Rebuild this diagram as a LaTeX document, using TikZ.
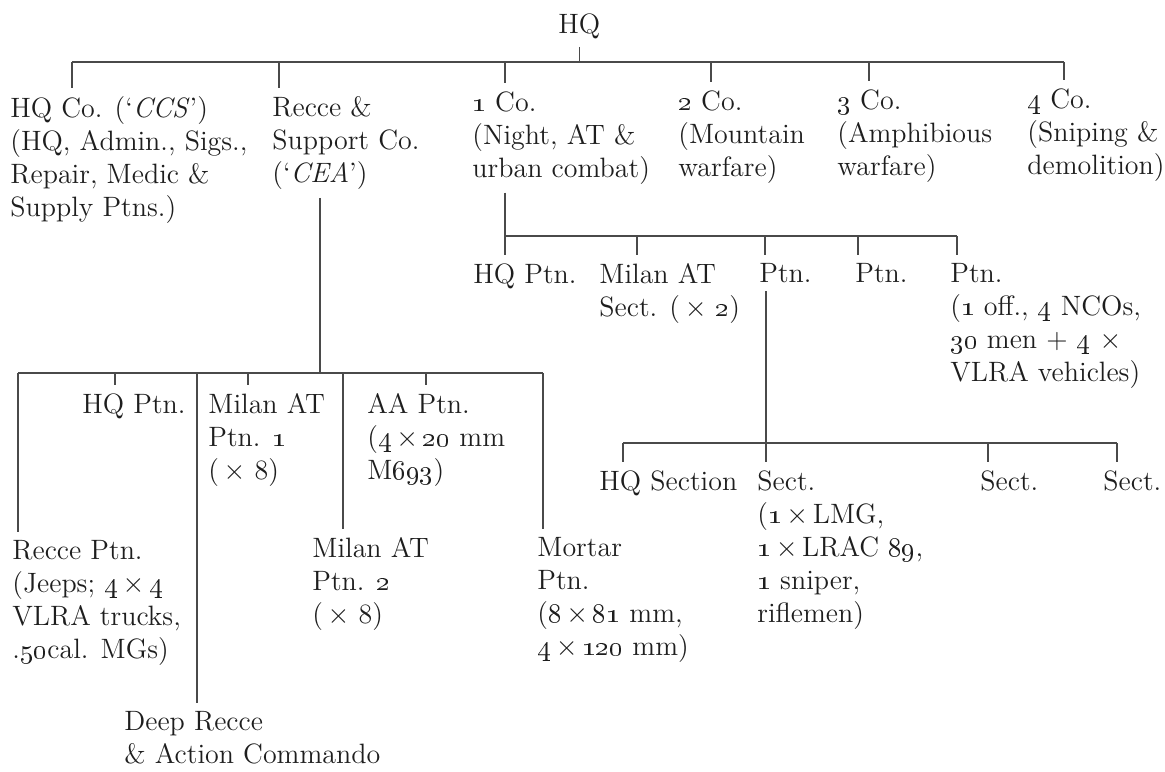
\RequirePackage{fix-cm}
\documentclass[tikz,border=0pt]{standalone}
\usepackage{tikz}

\definecolor{ink}{HTML}{1E1E1E}
\definecolor{rule}{HTML}{4A4A4A}
\newcommand{\osn}[1]{\oldstylenums{#1}}

\tikzset{
  unit/.style={anchor=north west, align=left, inner xsep=0pt, inner ysep=4pt,
    text=ink, font=\fontsize{14}{16.5}\selectfont},
  link/.style={draw=rule, line width=0.55pt},
}

\begin{document}
\begin{tikzpicture}[x=0.5pt, y=-0.5pt]
      \fill[white] (0,0) rectangle (1165,771);
      \useasboundingbox (0,0) rectangle (1165,771);

      % battalion and companies
      \node[unit] (hq) at (558,5) {HQ};
      \node[unit] (hqco) at (10,88) {HQ Co. (`\textit{CCS}')\\(HQ, Admin., Sigs.,\\Repair, Medic \&\\Supply Ptns.)};
      \node[unit] (recce) at (272,88) {Recce \&\\Support Co.\\(`\textit{CEA}')};
      \node[unit] (coa) at (472,83) {\osn{1} Co.\\(Night, AT \&\\urban combat)};
      \node[unit] (cob) at (678,82) {\osn{2} Co.\\(Mountain\\warfare)};
      \node[unit] (coc) at (837,81) {\osn{3} Co.\\(Amphibious\\warfare)};
      \node[unit] (cod) at (1027,80) {\osn{4} Co.\\(Sniping \&\\demolition)};

      \coordinate (topL) at (72,62);
      \coordinate (topR) at (1064,62);
      \draw[link] (topL) -- (topR);
      \draw[link] (hq.south) -- (hq.south |- topL);
      \foreach \x/\n in {72/hqco, 279/recce, 505/coa, 711/cob, 869/coc, 1064/cod} {
        \coordinate (d-\n) at (\x,62);
        \draw[link] (d-\n) -- (d-\n |- \n.north);
      }

      % 1 Co.
      \node[unit] (hqptn) at (473,255) {HQ Ptn.};
      \node[unit] (milsect) at (599,255) {Milan AT\\Sect. (\,$\times$\ \osn{2})};
      \node[unit] (ptna) at (759,255) {Ptn.};
      \node[unit] (ptnb) at (855,255) {Ptn.};
      \node[unit] (ptnc) at (950,255) {Ptn.\\(\osn{1} off., \osn{4} NCOs,\\\osn{30} men + \osn{4} $\times$\\VLRA vehicles)};

      \coordinate (coaL) at (505,236);
      \coordinate (coaR) at (957,236);
      \draw[link] (coaL |- coa.south) -- (coaL) -- (coaR);
      \foreach \x/\n in {505/hqptn, 637/milsect, 765/ptna, 858/ptnb, 957/ptnc} {
        \coordinate (d-\n) at (\x,236);
        \draw[link] (d-\n) -- (d-\n |- \n.north);
      }

      % platoon
      \node[unit] (hqsec) at (599,462) {HQ Section};
      \node[unit] (secta) at (757,462) {Sect.\\(\osn{1}\,$\times$\,LMG,\\\osn{1}\,$\times$\,LRAC \osn{89},\\\osn{1} sniper,\\riflemen)};
      \node[unit] (sectb) at (980,462) {Sect.};
      \node[unit] (sectc) at (1103,462) {Sect.};

      \coordinate (ptnL) at (623,443);
      \coordinate (ptnR) at (1117,443);
      \coordinate (ptnV) at (766,443);
      \draw[link] (ptnV |- ptna.south) -- (ptnV);
      \draw[link] (ptnL) -- (ptnR);
      \foreach \x/\n in {623/hqsec, 766/secta, 988/sectb, 1117/sectc} {
        \coordinate (d-\n) at (\x,443);
        \draw[link] (d-\n) -- (d-\n |- \n.north);
      }

      % recce & support co.
      \node[unit] (rhq) at (82,385) {HQ Ptn.};
      \node[unit] (milana) at (208,385) {Milan AT\\Ptn. \osn{1}\\(\,$\times$\ 8)};
      \node[unit] (aa) at (367,385) {AA Ptn.\\(\osn{4}\,$\times$\,\osn{20} mm\\M\osn{693})};
      \node[unit] (rptn) at (12,532) {Recce Ptn.\\(Jeeps; \osn{4}\,$\times$\,\osn{4}\\VLRA trucks,\\.\osn{50}cal. MGs)};
      \node[unit] (milanb) at (312,529) {Milan AT\\Ptn. \osn{2}\\(\,$\times$\ 8)};
      \node[unit] (mortar) at (537,529) {Mortar\\Ptn.\\(\osn{8}\,$\times$\,\osn{81} mm,\\\osn{4}\,$\times$\,\osn{120} mm)};
      \node[unit] (deep) at (124,703) {Deep Recce\\\& Action Commando};

      \coordinate (rsL) at (18,373);
      \coordinate (rsR) at (543,373);
      \coordinate (rsV) at (320,373);
      \draw[link] (rsV |- recce.south) -- (rsV);
      \draw[link] (rsL) -- (rsR);
      \foreach \x/\n in {18/rptn, 115/rhq, 197/deep, 248/milana, 343/milanb, 426/aa, 543/mortar} {
        \coordinate (d-\n) at (\x,373);
        \draw[link] (d-\n) -- (d-\n |- \n.north);
      }
\end{tikzpicture}
\end{document}
